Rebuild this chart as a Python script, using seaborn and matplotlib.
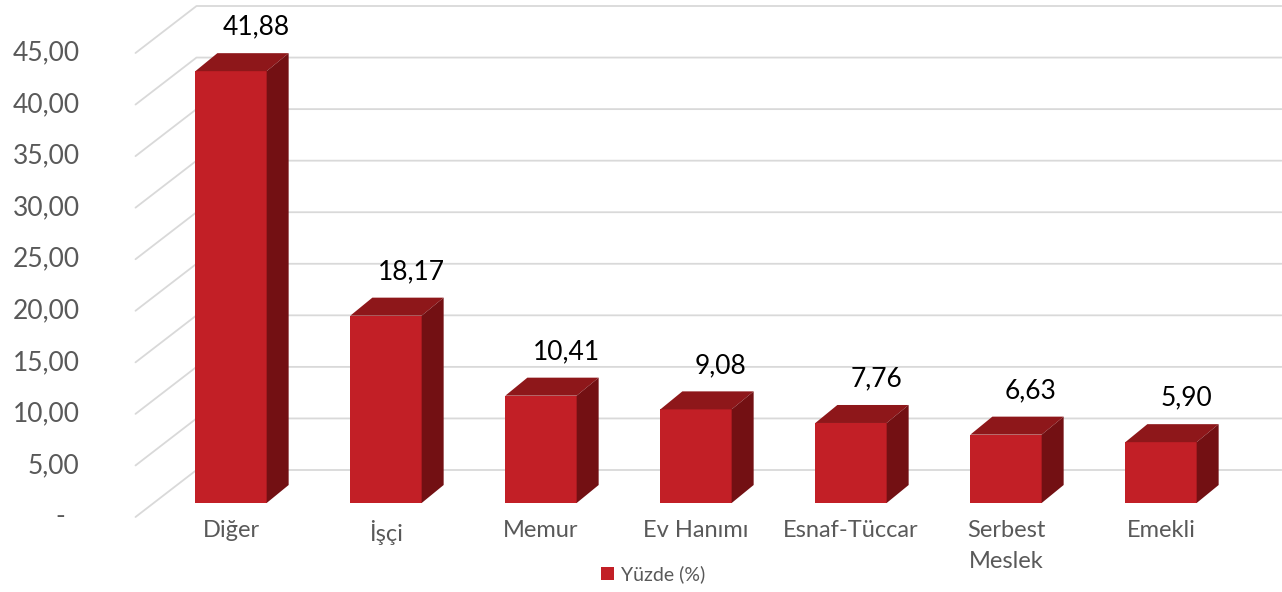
import numpy as np
import pandas as pd
import matplotlib
matplotlib.use("Agg")
import matplotlib.pyplot as plt
import seaborn as sns
from matplotlib.patches import Polygon, Patch

# data
categories = ["Diğer", "İşçi", "Memur", "Ev Hanımı", "Esnaf-Tüccar", "Serbest\nMeslek", "Emekli"]
values = [41.88, 18.17, 10.41, 9.08, 7.76, 6.63, 5.90]
yticks = [0, 5, 10, 15, 20, 25, 30, 35, 40, 45]
ytick_labels = ["-  ", "5,00", "10,00", "15,00", "20,00", "25,00", "30,00", "35,00", "40,00", "45,00"]
series_name = "Yüzde (%)"

front_col = "#C21F26"
top_col = "#8E171A"
side_col = "#731013"
grid_col = "#D9D9D9"
text_gray = "#595959"

sns.set_theme(style="white")
plt.rcParams["font.family"] = ["Lato", "DejaVu Sans"]

df = pd.DataFrame({"Meslek": categories, "Yuzde": values})

W, H = 1282, 592
fig = plt.figure(figsize=(W / 100, H / 100), dpi=100)
ax = fig.add_axes([153.5 / W, 89 / H, 1085 / W, 464 / H])

sns.barplot(data=df, x="Meslek", y="Yuzde", color=front_col, saturation=1,
            width=0.46, ax=ax, zorder=3, linewidth=0)
ax.set_xlim(-0.5, len(categories) - 0.5)
ax.set_ylim(0, 45)
ax.set_xlabel("")
ax.set_ylabel("")
for s in ax.spines.values():
    s.set_visible(False)
ax.grid(False)
ax.set_yticks([])

to_disp = ax.transData.transform
to_data = ax.transData.inverted().transform

# 3D-ish gridlines: left side wall + back wall
x0, x1 = ax.get_xlim()
front_off = np.array([-18, -14])
back_off = np.array([43, 33])
for v, lab in zip(yticks, ytick_labels):
    pl = to_disp((x0, v))
    pr = to_disp((x1, v))
    pts = np.array([pl + front_off, pl + back_off, pr + back_off])
    d = to_data(pts)
    ax.plot(d[:, 0], d[:, 1], color=grid_col, lw=1.3, zorder=1, clip_on=False)
    lp = to_data(pl + front_off + np.array([-56, 0]))
    ax.text(lp[0], lp[1], lab, ha="right", va="center", fontsize=19,
            color=text_gray, clip_on=False)

# top and side faces of the bars
depth = np.array([22, 18])
for p in ax.patches:
    bx, bw, bh = p.get_x(), p.get_width(), p.get_height()
    fl = to_disp((bx, bh))
    fr = to_disp((bx + bw, bh))
    br = to_disp((bx + bw, 0))
    top = to_data(np.array([fl, fr, fr + depth, fl + depth]))
    side = to_data(np.array([br, fr, fr + depth, br + depth]))
    ax.add_patch(Polygon(top, closed=True, facecolor=top_col, edgecolor="none",
                         zorder=3, clip_on=False))
    ax.add_patch(Polygon(side, closed=True, facecolor=side_col, edgecolor="none",
                         zorder=3, clip_on=False))

# value labels
for i, v in enumerate(values):
    ax.annotate(f"{v:.2f}".replace(".", ","), xy=(i, v), xytext=(25, 44),
                textcoords="offset pixels", ha="center", va="center",
                fontsize=19, color="black", annotation_clip=False)

ax.set_xticks(range(len(categories)))
ax.set_xticklabels(categories, fontsize=17, color=text_gray, linespacing=1.6)
ax.tick_params(axis="x", length=0, pad=12)

fig.legend(handles=[Patch(facecolor=front_col, edgecolor="none", label=series_name)],
           loc="center", bbox_to_anchor=(653 / W, 1 - 574 / H), frameon=False,
           fontsize=14, handlelength=0.65, handleheight=0.65, handletextpad=0.35,
           labelcolor=text_gray)

fig.savefig("out.png", dpi=100)
